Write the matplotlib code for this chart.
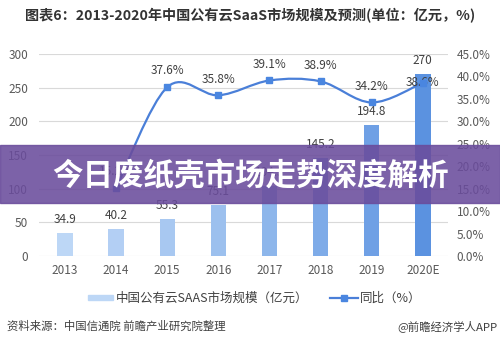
import matplotlib.pyplot as plt
import numpy as np
from matplotlib.path import Path
from matplotlib.patches import PathPatch, Rectangle
from matplotlib.lines import Line2D

plt.rcParams['font.family'] = ['Noto Sans CJK SC', 'DejaVu Sans']

years = ['2013', '2014', '2015', '2016', '2017', '2018', '2019', '2020E']
market = [34.9, 40.2, 55.3, 75.1, 104.5, 145.2, 194.8, 270]
growth = [None, 15.2, 37.6, 35.8, 39.1, 38.9, 34.2, 38.6]
bar_colors = ['#bdd7f6', '#b3cff4', '#a8c8f1', '#9cc0ee', '#8db6eb', '#7eabe8', '#6fa0e5', '#5b92e0']

W, H = 500, 350
fig = plt.figure(figsize=(5, 3.5), dpi=100)
ax = fig.add_axes([39.4 / W, 1 - 256 / H, 409 / W, 202 / H])
ax2 = ax.twinx()

x = np.arange(len(years))
ax.bar(x, market, width=0.3, color=bar_colors, zorder=2)
for i, v in enumerate(market):
    ax.annotate(f'{v:g}', (i, v), xytext=(0, 5), textcoords='offset points',
                ha='center', va='bottom', fontsize=8.5, color='#404040')

ax.set_xlim(-0.5, len(years) - 0.5)
ax.set_ylim(0, 300)
ax.set_yticks(range(0, 301, 50))
ax.set_xticks(x)
ax.set_xticklabels(years)
ax.grid(axis='y', color='#d9d9d9', lw=0.8, zorder=0)
ax.set_axisbelow(True)

# smooth line through the growth points (Catmull-Rom as Bezier curves)
gx = [i for i, g in enumerate(growth) if g is not None]
gy = [g for g in growth if g is not None]
verts = [(gx[0], gy[0])]
codes = [Path.MOVETO]
n = len(gx)
for k in range(n - 1):
    p0 = (gx[max(k - 1, 0)], gy[max(k - 1, 0)])
    p1 = (gx[k], gy[k])
    p2 = (gx[k + 1], gy[k + 1])
    p3 = (gx[min(k + 2, n - 1)], gy[min(k + 2, n - 1)])
    c1 = (p1[0] + (p2[0] - p0[0]) / 6, p1[1] + (p2[1] - p0[1]) / 6)
    c2 = (p2[0] - (p3[0] - p1[0]) / 6, p2[1] - (p3[1] - p1[1]) / 6)
    verts += [c1, c2, p2]
    codes += [Path.CURVE4] * 3
ax2.add_patch(PathPatch(Path(verts, codes), fill=False, edgecolor='#4a7fd8', lw=1.6, zorder=3))
ax2.plot(gx, gy, ls='none', marker='s', ms=5, color='#4a86e0', zorder=4)
for i, g in zip(gx, gy):
    dy = 0 if i == len(years) - 1 else 7
    ax2.annotate(f'{g}%', (i, g), xytext=(0, dy), textcoords='offset points',
                 ha='center', va='bottom' if dy else 'center', fontsize=8.5, color='#404040')

ax2.set_ylim(0, 45)
ax2.set_yticks(np.arange(0, 46, 5))
ax2.set_yticklabels([f'{t:.1f}%' for t in np.arange(0, 46, 5)])

for a in (ax, ax2):
    for s in a.spines.values():
        s.set_visible(False)
    a.tick_params(length=0, labelsize=8.5, labelcolor='#595959')
ax.tick_params(axis='x', pad=6)
ax.tick_params(axis='y', pad=8)
ax2.tick_params(axis='y', pad=6)

fig.text(25 / W, 1 - 16 / H, '图表6：2013-2020年中国公有云SaaS市场规模及预测(单位：亿元，%)',
         fontsize=10.2, fontweight='bold', color='#333333', va='center', ha='left')

# legend
fig.patches.append(Rectangle((88 / W, 1 - 300 / H), 25 / W, 5 / H, color='#bdd7f6',
                             transform=fig.transFigure, figure=fig))
fig.text(116 / W, 1 - 298 / H, '中国公有云SAAS市场规模（亿元）', fontsize=9, color='#404040', va='center')
fig.lines.append(Line2D([330 / W, 358 / W], [1 - 298 / H] * 2, color='#4a7fd8', lw=1.6,
                        transform=fig.transFigure, figure=fig))
fig.lines.append(Line2D([344 / W], [1 - 298 / H], marker='s', ms=5, color='#4a86e0',
                        transform=fig.transFigure, figure=fig))
fig.text(360 / W, 1 - 298 / H, '同比（%）', fontsize=9, color='#404040', va='center')

fig.text(7 / W, 1 - 326 / H, '资料来源：中国信通院 前瞻产业研究院整理', fontsize=8.2, color='#404040', va='center')
fig.text(497 / W, 1 - 326 / H, '@前瞻经济学人APP', fontsize=8.2, color='#404040', va='center', ha='right')

# banner overlay
fig.patches.append(Rectangle((0, 1 - 203 / H), 1, 58 / H, color='#6a4c9c', alpha=0.88,
                             transform=fig.transFigure, figure=fig, zorder=10))
fig.text(0.5, 1 - 176 / H, '今日废纸壳市场走势深度解析', fontsize=22, fontweight='bold',
         color='white', ha='center', va='center', zorder=11)

fig.savefig('out.png', dpi=100)
